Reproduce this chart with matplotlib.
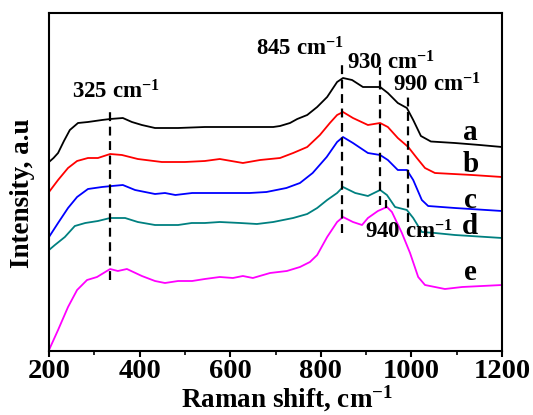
import numpy as np
import matplotlib
matplotlib.use("Agg")
import matplotlib.pyplot as plt
from matplotlib.ticker import MultipleLocator

plt.rcParams['font.family'] = ['Liberation Serif', 'DejaVu Serif']
plt.rcParams['font.weight'] = 'bold'
plt.rcParams['mathtext.fontset'] = 'custom'
plt.rcParams['mathtext.rm'] = 'Liberation Serif:bold'
plt.rcParams['mathtext.it'] = 'Liberation Serif:bold'
plt.rcParams['mathtext.bf'] = 'Liberation Serif:bold'

# spectra (arbitrary intensity units)
x_a = [200, 210, 220, 233, 246, 264, 286, 317, 335, 363, 383, 405, 434, 485, 544, 622, 695, 710, 732, 748,
       770, 792, 814, 836, 849, 869, 893, 915, 931, 948, 970, 990, 1004, 1021, 1043, 1096, 1151, 1200]
y_a = [189, 193, 198, 210, 221, 228, 229, 231, 232, 233, 229, 226, 223, 223, 224, 224, 224, 225, 228, 232,
       236, 244, 254, 269, 273, 271, 264, 264, 264, 258, 248, 243, 231, 215, 209.5, 208, 206, 204]

x_b = [200, 220, 242, 262, 286, 308, 335, 361, 396, 449, 500, 544, 577, 628, 666, 710, 739,
       770, 798, 820, 836, 849, 871, 904, 931, 948, 970, 993, 1012, 1030, 1052, 1134, 1200]
y_b = [159, 171, 183, 190, 193, 193, 197, 196, 192, 189, 189, 190, 192, 188, 191, 193, 198,
       204, 216, 228, 236, 239, 233, 226, 228, 224, 213, 204, 193, 183, 178, 176, 174]

x_c = [200, 220, 242, 262, 286, 317, 339, 363, 390, 434, 456, 479, 516, 544, 571, 606, 643, 680,
       724, 754, 782, 813, 836, 849, 871, 904, 931, 948, 970, 990, 1004, 1023, 1037, 1096, 1200]
y_c = [114, 128, 143, 154, 162, 164, 165, 166, 161, 157, 158, 156, 158, 158, 158, 158, 158, 159,
       163, 168, 178, 194, 209, 214, 208, 198, 196, 191, 181, 181, 171, 151, 145, 143, 140]

x_d = [200, 213, 235, 257, 280, 308, 335, 368, 396, 434, 485, 515, 544, 577, 622, 659, 695,
       739, 770, 792, 814, 836, 849, 876, 904, 931, 946, 964, 990, 1004, 1023, 1052, 1096, 1200]
y_d = [101, 106, 114, 125, 128, 130, 133, 133, 129, 126, 126, 128, 128, 129, 128, 127, 129,
       133, 137, 143, 151, 158, 164, 158, 155, 161, 156, 144, 141, 133, 119, 118, 116, 113]

x_e = [200, 220, 242, 262, 284, 306, 335, 352, 372, 405, 434, 456, 485, 516, 544, 577, 606, 628,
       650, 688, 725, 754, 776, 792, 814, 836, 849, 871, 891, 904, 926, 946, 957, 979, 997, 1015,
       1030, 1074, 1112, 1200]
y_e = [1, 21, 44, 61, 71, 74, 82, 80, 82, 75, 70, 68, 70, 70, 72, 74, 73, 75,
       73, 78, 80, 84, 89, 96, 114, 129, 134, 129, 126, 133, 140, 144, 139, 118, 98, 74,
       66, 62, 64, 66]

names = ['a', 'b', 'c', 'd', 'e']
colors = ['#000000', '#ff0000', '#0000ff', '#008080', '#ff00ff']
series = [(x_a, y_a), (x_b, y_b), (x_c, y_c), (x_d, y_d), (x_e, y_e)]

# marked bands: position, dashed line span
band_pos = [335, 846, 931, 993, 945]
band_lo = [71, 118, 146, 129, 143]
band_hi = [243, 289, 284, 258, 151]
band_text = ['325', '845', '930', '990', '940']

fig = plt.figure(figsize=(5.33, 4.15), dpi=100)
ax = fig.add_axes([49/533, 64/415, 453/533, 338/415])

for (xs, ys), c in zip(series, colors):
    ax.plot(xs, ys, color=c, lw=1.3)

for p, lo, hi in zip(band_pos, band_lo, band_hi):
    ax.plot([p, p], [lo, hi], color='black', lw=1.6, dashes=(4, 2.5))

# text labels
lbl_xy = [(250, 252.7), (658, 296), (857, 281), (960, 259), (898, 112.7)]
for t, (tx, ty) in zip(band_text, lbl_xy):
    ax.text(tx, ty, t + r' cm$^{-1}$', fontsize=16.5, fontweight='bold', ha='left', va='baseline')

letter_y = [218, 186, 151, 124, 79]
for n, ly in zip(names, letter_y):
    ax.text(1130, ly, n, fontsize=21, fontweight='bold', ha='center', va='center')

ax.set_xlim(200, 1200)
ax.set_ylim(0, 338)
ax.xaxis.set_major_locator(MultipleLocator(200))
ax.xaxis.set_minor_locator(MultipleLocator(100))
ax.set_yticks([])
ax.tick_params(axis='x', which='major', direction='out', length=4.5, width=1.5,
               labelsize=20.5, pad=1)
ax.tick_params(axis='x', which='minor', direction='out', length=3, width=1.2)
for s in ax.spines.values():
    s.set_linewidth(1.5)

ax.set_xlabel(r'Raman shift, cm$^{-1}$', fontsize=19.5, fontweight='bold')
ax.set_ylabel('Intensity, a.u', fontsize=19.5, fontweight='bold')
ax.xaxis.set_label_coords(0.525, -0.098)
ax.yaxis.set_label_coords(-0.031, 0.466)

fig.savefig('out.png', dpi=100)
